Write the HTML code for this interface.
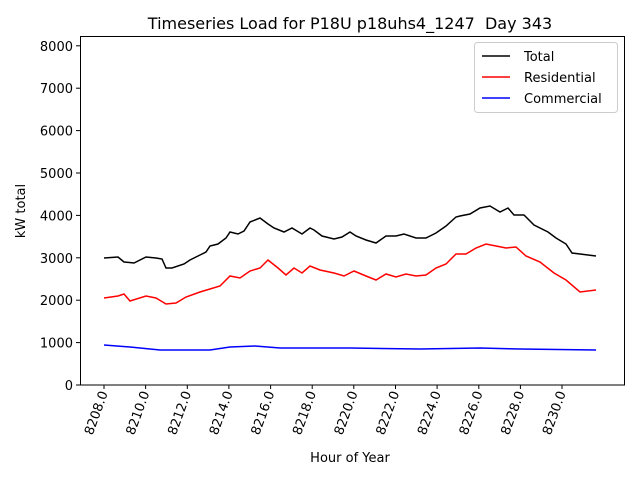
<!DOCTYPE html>
<html><head><meta charset="utf-8"><style>body{margin:0;background:#fff}svg{display:block;font-family:"DejaVu Sans","Liberation Sans",sans-serif}</style></head>
<body>
<svg width="640" height="480" viewBox="0 0 640 480">
<rect width="640" height="480" fill="#fff"/>
<text x="350" y="29" font-size="16" text-anchor="middle" xml:space="preserve">Timeseries Load for P18U p18uhs4_1247&#160; Day 343</text>
<g font-size="13" text-anchor="end" fill="#000">
<g stroke="#000" stroke-width="1">
<line x1="76" y1="385" x2="80" y2="385"/><line x1="76" y1="342.6" x2="80" y2="342.6"/><line x1="76" y1="300.2" x2="80" y2="300.2"/><line x1="76" y1="257.8" x2="80" y2="257.8"/><line x1="76" y1="215.4" x2="80" y2="215.4"/><line x1="76" y1="173" x2="80" y2="173"/><line x1="76" y1="130.6" x2="80" y2="130.6"/><line x1="76" y1="88.2" x2="80" y2="88.2"/><line x1="76" y1="45.8" x2="80" y2="45.8"/>
</g>
<text x="73" y="390">0</text><text x="73" y="347.6">1000</text><text x="73" y="305.2">2000</text><text x="73" y="262.8">3000</text><text x="73" y="220.4">4000</text><text x="73" y="178">5000</text><text x="73" y="135.6">6000</text><text x="73" y="93.2">7000</text><text x="73" y="50.8">8000</text>
</g>
<g stroke="#000">
<line x1="104" y1="385" x2="104" y2="389"/><line x1="145.6" y1="385" x2="145.6" y2="389"/><line x1="187.3" y1="385" x2="187.3" y2="389"/><line x1="228.9" y1="385" x2="228.9" y2="389"/><line x1="270.6" y1="385" x2="270.6" y2="389"/><line x1="312.2" y1="385" x2="312.2" y2="389"/><line x1="353.8" y1="385" x2="353.8" y2="389"/><line x1="395.5" y1="385" x2="395.5" y2="389"/><line x1="437.1" y1="385" x2="437.1" y2="389"/><line x1="478.8" y1="385" x2="478.8" y2="389"/><line x1="520.4" y1="385" x2="520.4" y2="389"/><line x1="562" y1="385" x2="562" y2="389"/>
</g>
<g font-size="13" text-anchor="end">
<text transform="translate(108,393) rotate(-70)">8208.0</text>
<text transform="translate(149.6,393) rotate(-70)">8210.0</text>
<text transform="translate(191.3,393) rotate(-70)">8212.0</text>
<text transform="translate(232.9,393) rotate(-70)">8214.0</text>
<text transform="translate(274.6,393) rotate(-70)">8216.0</text>
<text transform="translate(316.2,393) rotate(-70)">8218.0</text>
<text transform="translate(357.8,393) rotate(-70)">8220.0</text>
<text transform="translate(399.5,393) rotate(-70)">8222.0</text>
<text transform="translate(441.1,393) rotate(-70)">8224.0</text>
<text transform="translate(482.8,393) rotate(-70)">8226.0</text>
<text transform="translate(524.4,393) rotate(-70)">8228.0</text>
<text transform="translate(566,393) rotate(-70)">8230.0</text>
</g>
<text x="350" y="462" font-size="13" text-anchor="middle">Hour of Year</text>
<text transform="translate(25,211) rotate(-90)" font-size="13" text-anchor="middle">kW total</text>
<g fill="none" stroke-width="1.5">
<polyline stroke="#000" points="104,258 118,257 124,262 134,263 146,257 156,258 162,259 166,268 172,268 184,264 190,260 200,255 206,252 210,246 218,244 226,238 230,232 238,234 244,231 250,222 260,218 268,224 274,228 284,232 292,228 302,234 310,228 314,230 322,236 334,239 342,237 350,232 356,236 366,240 376,243 386,236 396,236 404,234 416,238 426,238 436,233 446,226 456,217 460,216 470,214 480,208 490,206 500,212 508,208 514,215 524,215 534,225 548,232 556,238 566,244 572,253 580,254 596,256"/>
<polyline stroke="#f00" points="104,298 118,296 124,294 130,301 146,296 156,298 166,304 176,303 186,297 200,292 210,289 220,286 230,276 240,278 250,271 260,268 268,260 278,268 286,275 294,268 302,273 310,266 320,270 334,273 344,276 354,271 366,276 376,280 386,274 396,277 406,274 416,276 426,275 436,268 446,264 456,254 466,254 476,248 486,244 496,246 506,248 516,247 526,256 540,262 554,273 566,280 580,292 596,290"/>
<polyline stroke="#00f" points="104,345 130,347 160,350 210,350 230,347 255,346 280,348 350,348 420,349 480,348 520,349 596,350"/>
</g>
<rect x="80.5" y="36.5" width="544" height="348.5" fill="none" stroke="#000"/>
<rect x="474.5" y="42.5" width="143" height="70" rx="3" fill="#fff" stroke="#ccc"/>
<g stroke-width="1.5"><line x1="482" y1="56" x2="510" y2="56" stroke="#000"/><line x1="482" y1="77" x2="510" y2="77" stroke="#f00"/><line x1="482" y1="98" x2="510" y2="98" stroke="#00f"/></g>
<g font-size="13"><text x="524" y="61">Total</text><text x="524" y="82">Residential</text><text x="524" y="103">Commercial</text></g>
</svg>
</body></html>
